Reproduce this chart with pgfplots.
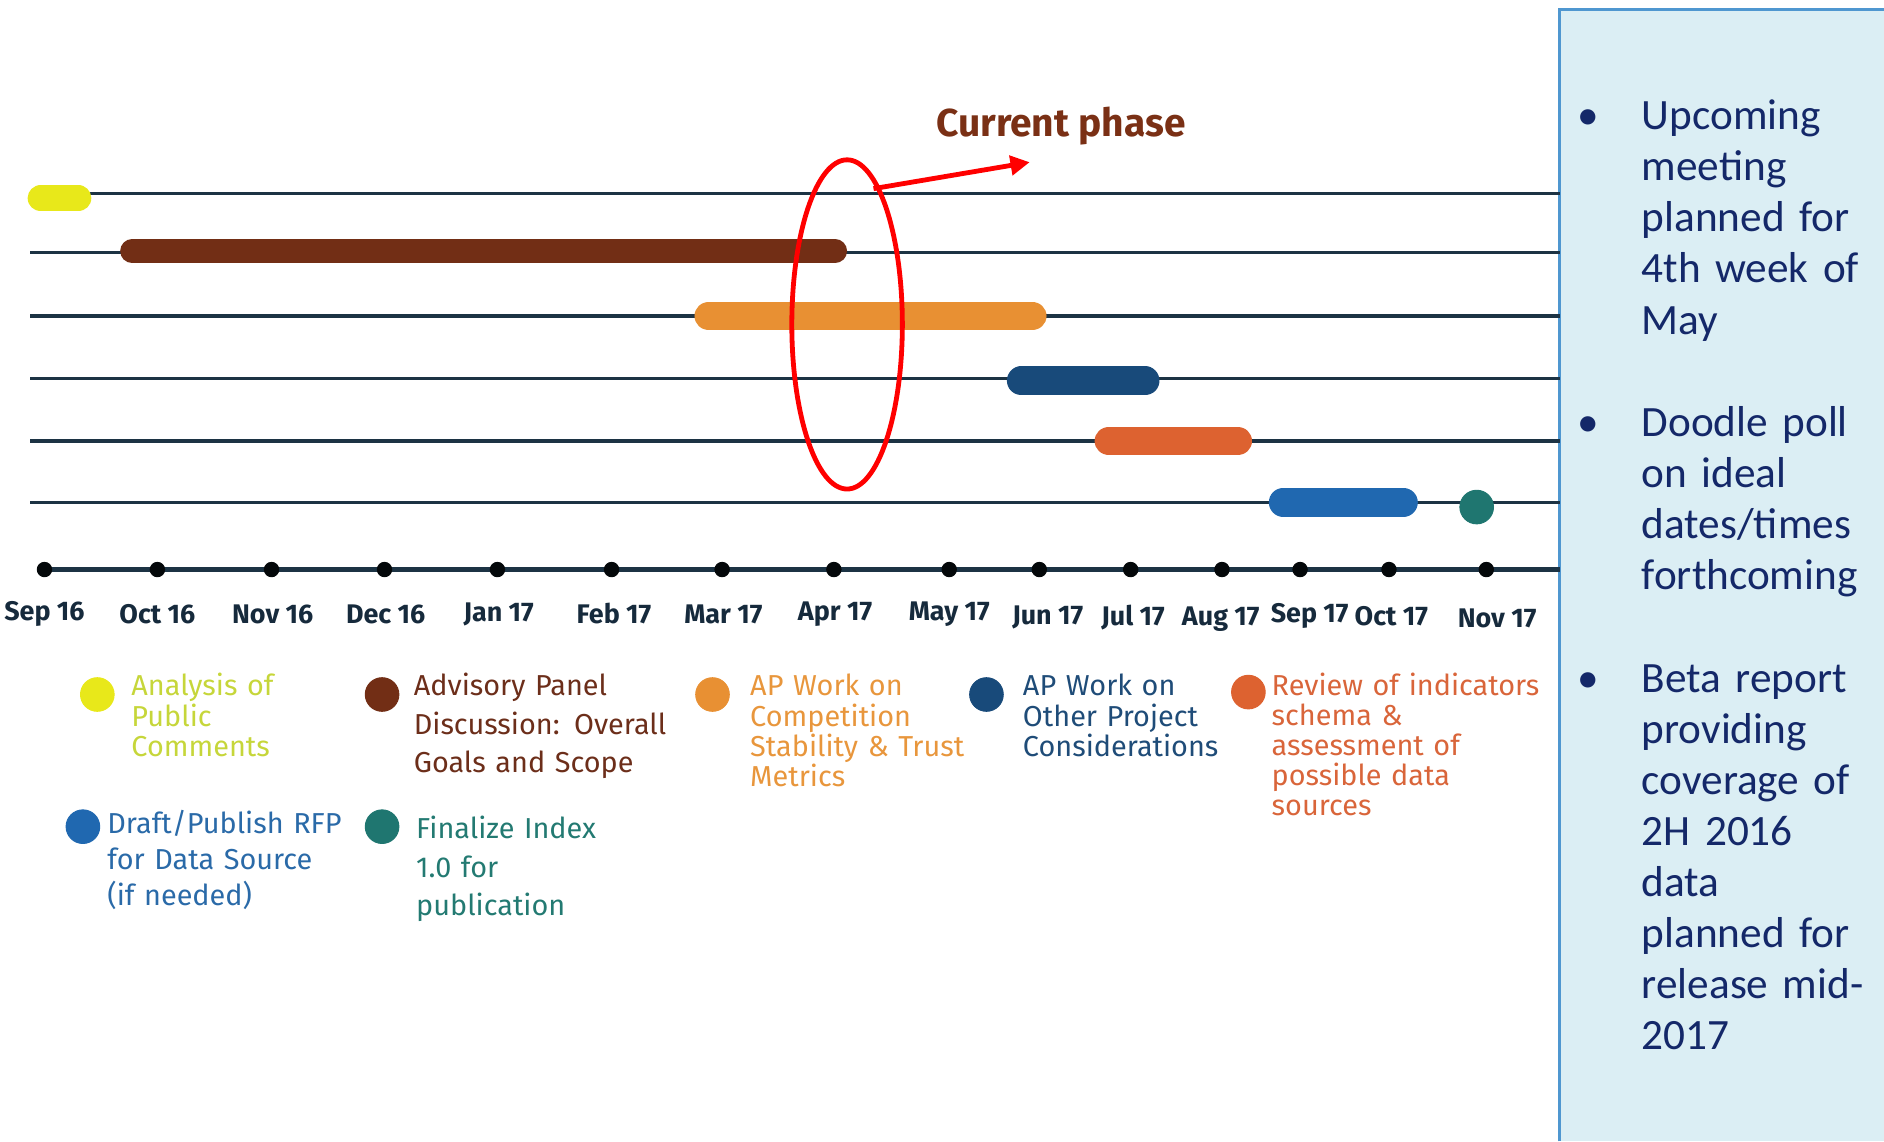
\documentclass[border=0pt]{standalone}
\usepackage{pgfplots}
\pgfplotsset{compat=1.18}
\usepackage{fontspec}
\setmainfont{Fira Sans}
\newfontfamily\panelfont{Carlito}
\usetikzlibrary{arrows.meta}
\definecolor{linecol}{RGB}{28,51,68}
\definecolor{tickcol}{RGB}{22,42,60}
\definecolor{cyel}{RGB}{232,232,26}
\definecolor{tyel}{RGB}{198,214,58}
\definecolor{cbrown}{RGB}{114,46,21}
\definecolor{tbrown}{RGB}{108,46,26}
\definecolor{corange}{RGB}{232,144,51}
\definecolor{torange}{RGB}{232,150,60}
\definecolor{cnavy}{RGB}{24,74,122}
\definecolor{tnavy}{RGB}{31,76,120}
\definecolor{cred}{RGB}{221,98,48}
\definecolor{tred}{RGB}{217,101,58}
\definecolor{cblue}{RGB}{32,104,176}
\definecolor{tblue}{RGB}{42,106,168}
\definecolor{cteal}{RGB}{31,118,112}
\definecolor{tteal}{RGB}{35,122,114}
\definecolor{phasecol}{RGB}{122,48,21}
\definecolor{panelfill}{RGB}{219,238,244}
\definecolor{panelborder}{RGB}{79,151,208}
\definecolor{paneltext}{RGB}{20,40,105}
\begin{document}
\begin{tikzpicture}
\begin{axis}[
  at={(0,0)}, anchor=south west,
  scale only axis, width=784pt, height=475pt,
  xmin=0, xmax=1568, ymin=0, ymax=950, y dir=reverse,
  hide axis, clip=false,
]
% right panel
\fill[panelfill] (axis cs:1298,8) rectangle (axis cs:1568,950);
\draw[panelborder, line width=1pt] (axis cs:1298,950) -- (axis cs:1298,8) -- (axis cs:1568,8);

% row lines
\addplot[linecol, line width=1.3pt] coordinates {(25,161) (1298,161)};
\addplot[linecol, line width=1.3pt] coordinates {(25,210) (1298,210)};
\addplot[linecol, line width=1.3pt] coordinates {(25,263) (1298,263)};
\addplot[linecol, line width=1.3pt] coordinates {(25,315) (1298,315)};
\addplot[linecol, line width=1.3pt] coordinates {(25,367) (1298,367)};
\addplot[linecol, line width=1.3pt] coordinates {(25,418) (1298,418)};

% bars
\addplot[cyel, line width=11pt, line cap=round] coordinates {(34,165) (65,165)};
\addplot[cbrown, line width=10pt, line cap=round] coordinates {(110,209) (695,209)};
\addplot[corange, line width=12pt, line cap=round] coordinates {(590,263) (859,263)};
\addplot[cnavy, line width=12pt, line cap=round] coordinates {(850,317) (953,317)};
\addplot[cred, line width=12pt, line cap=round] coordinates {(923,367) (1030,367)};
\addplot[cblue, line width=12pt, line cap=round] coordinates {(1068,418) (1168,418)};
\addplot[only marks, mark=*, mark size=7pt, cteal] coordinates {(1229,422)};

% timeline
\addplot[linecol, line width=2pt] coordinates {(37,474) (1298,474)};
\addplot[only marks, mark=*, mark size=3pt, color=black!85!linecol] coordinates {
(37,474) (131,474) (226,474) (320,474) (414,474) (509,474) (601,474) (694,474)
(790,474) (865,474) (941,474) (1017,474) (1082,474) (1156,474) (1237,474)};
\addplot[draw=none, nodes near coords, point meta=explicit symbolic,
  every node near coord/.style={anchor=center, inner sep=0pt,
    font=\bfseries\fontsize{11.2}{13}\selectfont, text=tickcol}]
  table[meta=label, col sep=comma, row sep=\\] {
x,y,label\\
37,511,Sep 16\\
131,511,Oct 16\\
227,511,Nov 16\\
321,511,Dec 16\\
415,511,Jan 17\\
511,511,Feb 17\\
602,511,Mar 17\\
695,511,Apr 17\\
790,511,May 17\\
872,514,Jun 17\\
943,514,Jul 17\\
1016,515,Aug 17\\
1090,513,Sep 17\\
1158,513,Oct 17\\
1246,515,Nov 17\\
};

% current phase annotation
\draw[red, line width=2pt] (axis cs:705,270) ellipse [x radius=23pt, y radius=68.5pt];
\draw[red, line width=2pt, -{Triangle[length=8pt,width=8pt]}] (axis cs:727,157) -- (axis cs:857,135);
\node[text=phasecol, font=\bfseries\fontsize{16.2}{19}\selectfont] at (axis cs:883,105) {Current phase};

% legend markers
\addplot[only marks, mark=*, mark size=7pt, cyel] coordinates {(81,578)};
\addplot[only marks, mark=*, mark size=7pt, cbrown] coordinates {(318,578)};
\addplot[only marks, mark=*, mark size=7pt, corange] coordinates {(593,578)};
\addplot[only marks, mark=*, mark size=7pt, cnavy] coordinates {(821,578)};
\addplot[only marks, mark=*, mark size=7pt, cred] coordinates {(1039,576)};
\addplot[only marks, mark=*, mark size=7pt, cblue] coordinates {(69,688)};
\addplot[only marks, mark=*, mark size=7pt, cteal] coordinates {(318,688)};

% legend texts
\node[anchor=base west, inner sep=0pt, text width=120pt, align=left, text=tyel,
  font=\fontsize{12}{12.75}\selectfont] at (axis cs:109,579)
  {Analysis of\\Public\\Comments};
\node[anchor=base west, inner sep=0pt, text width=120pt, align=left, text=tbrown,
  font=\fontsize{12}{16}\selectfont] at (axis cs:344,579)
  {Advisory Panel\\Discussion: Overall\\Goals and Scope};
\node[anchor=base west, inner sep=0pt, text width=120pt, align=left, text=torange,
  font=\fontsize{12}{12.65}\selectfont] at (axis cs:624,579)
  {AP Work on\\Competition\\Stability \& Trust\\Metrics};
\node[anchor=base west, inner sep=0pt, text width=120pt, align=left, text=tnavy,
  font=\fontsize{12}{12.75}\selectfont] at (axis cs:851,579)
  {AP Work on\\Other Project\\Considerations};
\node[anchor=base west, inner sep=0pt, text width=120pt, align=left, text=tred,
  font=\fontsize{12}{12.5}\selectfont] at (axis cs:1058,579)
  {Review of indicators\\schema \&\\assessment of\\possible data\\sources};
\node[anchor=base west, inner sep=0pt, text width=120pt, align=left, text=tblue,
  font=\fontsize{12}{15}\selectfont] at (axis cs:89,694)
  {Draft/Publish RFP\\for Data Source\\(if needed)};
\node[anchor=base west, inner sep=0pt, text width=120pt, align=left, text=tteal,
  font=\fontsize{12}{16}\selectfont] at (axis cs:346,698)
  {Finalize Index\\1.0 for\\publication};

% panel text
\node[anchor=base, inner sep=0pt, text=paneltext, font=\panelfont\fontsize{18}{21.25}\selectfont] at (axis cs:1322,108) {\textbullet};
\node[anchor=base, inner sep=0pt, text=paneltext, font=\panelfont\fontsize{18}{21.25}\selectfont] at (axis cs:1322,363) {\textbullet};
\node[anchor=base, inner sep=0pt, text=paneltext, font=\panelfont\fontsize{18}{21.25}\selectfont] at (axis cs:1322,576) {\textbullet};
\node[anchor=base west, inner sep=0pt, text width=100pt, align=left, text=paneltext,
  font=\panelfont\fontsize{18}{21.25}\selectfont] at (axis cs:1366,108)
  {Upcoming\\meeting\\planned for\\4th week of\\May};
\node[anchor=base west, inner sep=0pt, text width=100pt, align=left, text=paneltext,
  font=\panelfont\fontsize{18}{21.25}\selectfont] at (axis cs:1366,363)
  {Doodle poll\\on ideal\\dates/times\\forthcoming};
\node[anchor=base west, inner sep=0pt, text width=100pt, align=left, text=paneltext,
  font=\panelfont\fontsize{18}{21.25}\selectfont] at (axis cs:1366,576)
  {Beta report\\providing\\coverage of\\2H 2016\\data\\planned for\\release mid-\\2017};
\end{axis}
\pgfresetboundingbox
\path (0,0) rectangle (784pt,475pt);
\end{tikzpicture}
\end{document}
